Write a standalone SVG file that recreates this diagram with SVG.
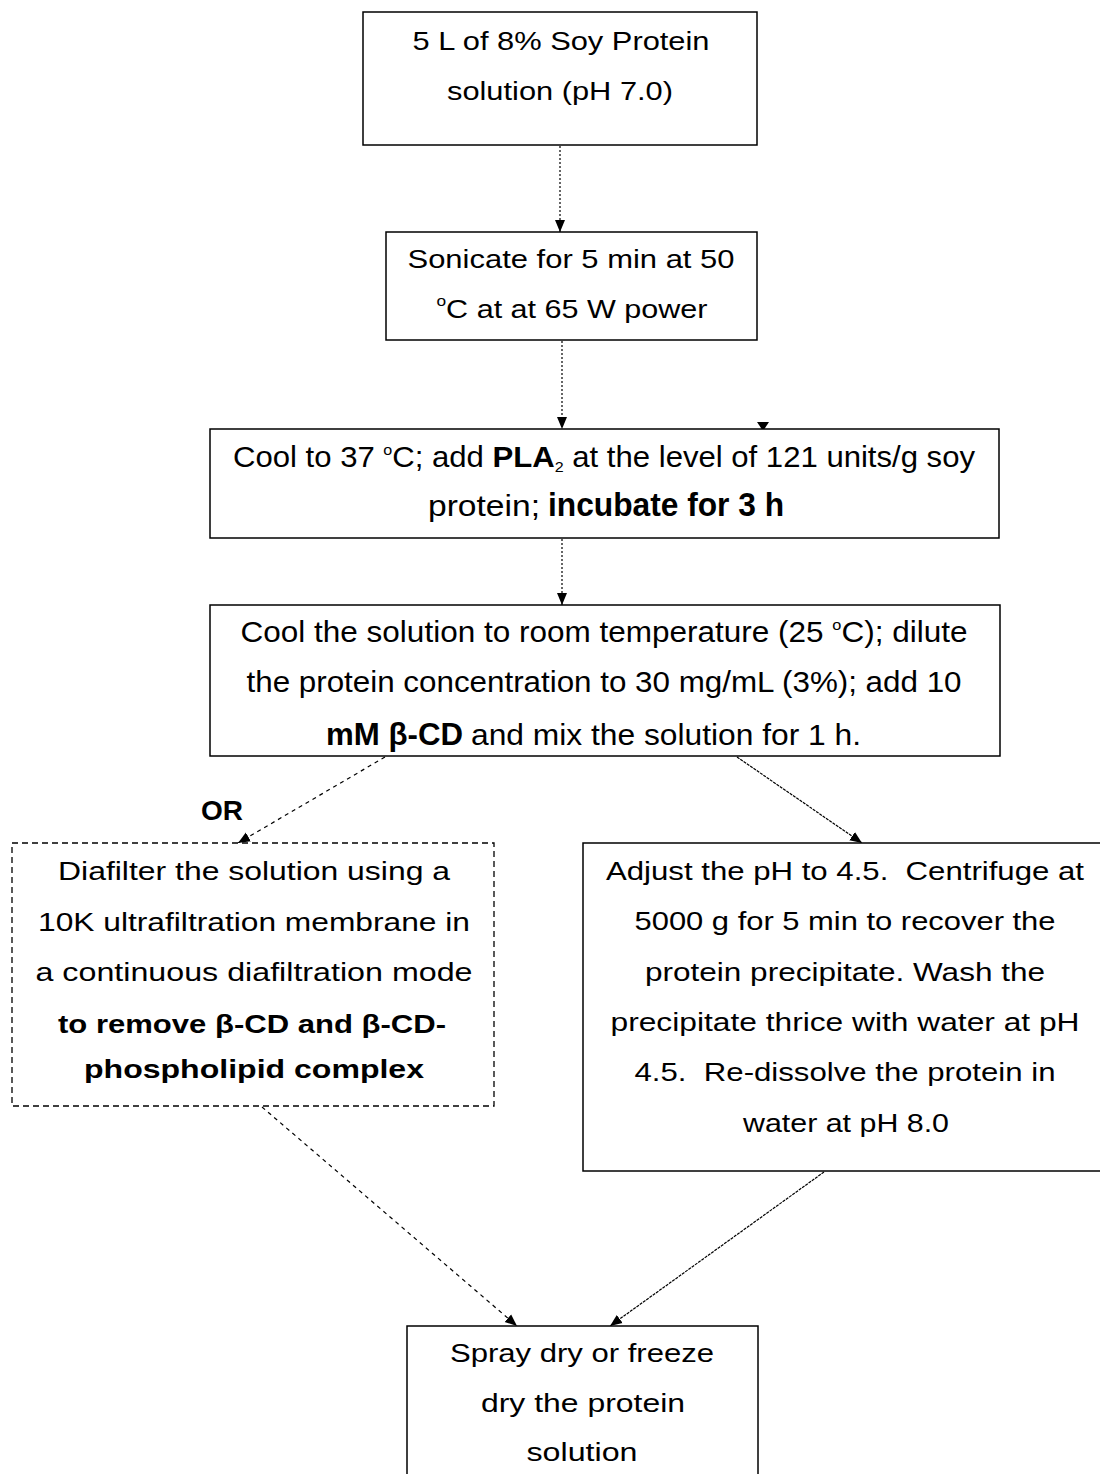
<svg xmlns="http://www.w3.org/2000/svg" width="1100" height="1474" viewBox="0 0 1100 1474">
<style>
  .box{fill:#fff;stroke:#000;stroke-width:1.5}
  .dbox{fill:#fff;stroke:#000;stroke-width:1.3;stroke-dasharray:6,4}
  text{font-family:"Liberation Sans",Arial,sans-serif;fill:#000}
  .t{font-size:26.5px;text-anchor:middle}
  .n{font-size:29px}
  .b{font-weight:bold}
  .sup{font-size:15px}
  .c{stroke:#000;stroke-width:1.2;fill:none}
  .dot{stroke-dasharray:2,2}
  .dash{stroke-dasharray:4,4}
  .fine{stroke-dasharray:3,1}
</style>
<defs>
  <marker id="ah" viewBox="0 0 12 12" refX="12" refY="6" markerWidth="12" markerHeight="12" markerUnits="userSpaceOnUse" orient="auto">
    <path d="M0,1 L12,6 L0,11 z" fill="#000"/>
  </marker>
</defs>
<rect width="1100" height="1474" fill="#fff"/>

<g id="connectors">
  <line class="c dot" x1="560" y1="146" x2="560" y2="232" marker-end="url(#ah)"/>
  <line class="c dot" x1="562" y1="341" x2="562" y2="429" marker-end="url(#ah)"/>
  <line class="c dot" x1="562" y1="539" x2="562" y2="605" marker-end="url(#ah)"/>
  <polygon points="757,422 769,422 763,431" fill="#000"/>
  <line class="c dash" x1="385" y1="757" x2="238" y2="843" marker-end="url(#ah)"/>
  <line class="c fine" x1="737" y1="757" x2="862" y2="843" marker-end="url(#ah)"/>
  <line class="c dash" x1="262" y1="1107" x2="517" y2="1326" marker-end="url(#ah)"/>
  <line class="c fine" x1="824" y1="1172" x2="610" y2="1326" marker-end="url(#ah)"/>
</g>

<g id="n1">
  <rect class="box" x="363" y="12" width="394" height="133"/>
  <text class="t" x="561" y="50" textLength="297" lengthAdjust="spacingAndGlyphs">5 L of 8% Soy Protein</text>
  <text class="t" x="560" y="100" textLength="226" lengthAdjust="spacingAndGlyphs">solution (pH 7.0)</text>
</g>

<g id="n2">
  <rect class="box" x="386" y="232" width="371" height="108"/>
  <text class="t" x="571" y="268" textLength="327" lengthAdjust="spacingAndGlyphs">Sonicate for 5 min at 50</text>
  <text class="t" x="572" y="318" textLength="271" lengthAdjust="spacingAndGlyphs"><tspan class="sup" dy="-12">o</tspan><tspan dy="12">C at at 65 W power</tspan></text>
</g>

<g id="n3">
  <rect class="box" x="210" y="429" width="789" height="109"/>
  <text class="t n" x="604" y="467" textLength="742" lengthAdjust="spacingAndGlyphs">Cool to 37 <tspan class="sup" dy="-12">o</tspan><tspan dy="12">C; add </tspan><tspan class="b">PLA</tspan><tspan class="sup" dy="5">2</tspan><tspan dy="-5"> at the level of 121 units/g soy</tspan></text>
  <text x="428" y="516" class="n" textLength="112" lengthAdjust="spacingAndGlyphs">protein;</text>
  <text x="548" y="516" font-size="33" class="b" textLength="236" lengthAdjust="spacingAndGlyphs">incubate for 3 h</text>
</g>

<g id="n4">
  <rect class="box" x="210" y="605" width="790" height="151"/>
  <text class="t n" x="604" y="642" textLength="727" lengthAdjust="spacingAndGlyphs">Cool the solution to room temperature (25 <tspan class="sup" dy="-12">o</tspan><tspan dy="12">C); dilute</tspan></text>
  <text class="t n" x="604" y="692" textLength="715" lengthAdjust="spacingAndGlyphs">the protein concentration to 30 mg/mL (3%); add 10</text>
  <text x="326" y="745" font-size="31" class="b" textLength="137" lengthAdjust="spacingAndGlyphs">mM β-CD</text>
  <text x="471" y="745" class="n" textLength="390" lengthAdjust="spacingAndGlyphs">and mix the solution for 1 h.</text>
</g>

<g id="or-label">
  <text x="222" y="820" font-size="28" class="b" text-anchor="middle">OR</text>
</g>

<g id="n5">
  <rect class="dbox" x="12" y="843" width="482" height="263"/>
  <text class="t" x="254" y="880" textLength="392" lengthAdjust="spacingAndGlyphs">Diafilter the solution using a</text>
  <text class="t" x="254" y="931" textLength="432" lengthAdjust="spacingAndGlyphs">10K ultrafiltration membrane in</text>
  <text class="t" x="254" y="981" textLength="437" lengthAdjust="spacingAndGlyphs">a continuous diafiltration mode</text>
  <text class="t b" x="252" y="1033" font-size="28" textLength="388" lengthAdjust="spacingAndGlyphs">to remove β-CD and β-CD-</text>
  <text class="t b" x="254" y="1078" font-size="28" textLength="340" lengthAdjust="spacingAndGlyphs">phospholipid complex</text>
</g>

<g id="n6">
  <rect class="box" x="583" y="843" width="530" height="328"/>
  <text class="t" xml:space="preserve" x="845" y="880" textLength="478" lengthAdjust="spacingAndGlyphs">Adjust the pH to 4.5.  Centrifuge at</text>
  <text class="t" x="845" y="930" textLength="421" lengthAdjust="spacingAndGlyphs">5000 g for 5 min to recover the</text>
  <text class="t" x="845" y="981" textLength="400" lengthAdjust="spacingAndGlyphs">protein precipitate. Wash the</text>
  <text class="t" x="845" y="1031" textLength="469" lengthAdjust="spacingAndGlyphs">precipitate thrice with water at pH</text>
  <text class="t" xml:space="preserve" x="845" y="1081" textLength="421" lengthAdjust="spacingAndGlyphs">4.5.  Re-dissolve the protein in</text>
  <text class="t" x="846" y="1132" textLength="206" lengthAdjust="spacingAndGlyphs">water at pH 8.0</text>
</g>

<g id="n7">
  <rect class="box" x="407" y="1326" width="351" height="160"/>
  <text class="t" x="582" y="1362" textLength="264" lengthAdjust="spacingAndGlyphs">Spray dry or freeze</text>
  <text class="t" x="583" y="1412" textLength="204" lengthAdjust="spacingAndGlyphs">dry the protein</text>
  <text class="t" x="582" y="1461" textLength="111" lengthAdjust="spacingAndGlyphs">solution</text>
</g>
</svg>
